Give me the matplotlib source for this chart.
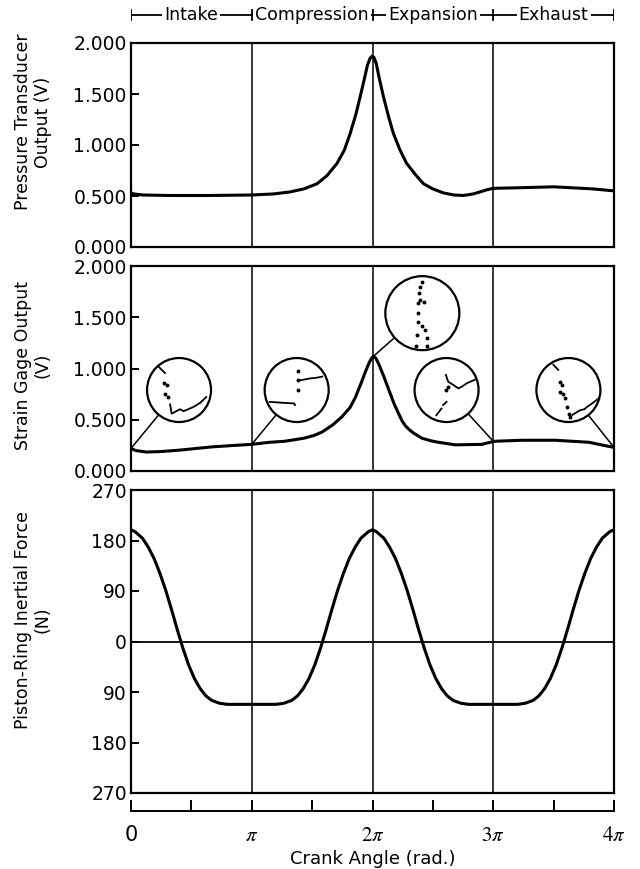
import numpy as np
import matplotlib
matplotlib.use("Agg")
import matplotlib.pyplot as plt
from matplotlib.patches import Circle
from matplotlib.transforms import ScaledTranslation

plt.rcParams['font.family'] = 'DejaVu Sans'
plt.rcParams['mathtext.fontset'] = 'stix'
plt.rcParams['lines.solid_joinstyle'] = 'round'

PI = np.pi

# pressure transducer output (V) vs crank angle (rad)
p_theta = [0, 0.08, 0.3, 1.0, 2.0, 3.14, 3.7, 4.14, 4.5, 4.84, 5.1, 5.36, 5.55, 5.70,
           5.85, 5.96, 6.06, 6.15, 6.22, 6.27, 6.32, 6.38, 6.45, 6.57, 6.70, 6.83, 7.0,
           7.17, 7.4, 7.61, 7.85, 8.13, 8.4, 8.65, 8.9, 9.08, 9.25, 9.42, 10.0, 11.0,
           12.0, 12.57]
p_volt = [0.53, 0.52, 0.51, 0.505, 0.505, 0.51, 0.52, 0.54, 0.57, 0.62, 0.70, 0.82, 0.95, 1.11,
          1.30, 1.47, 1.63, 1.78, 1.85, 1.87, 1.86, 1.80, 1.67, 1.47, 1.28, 1.11, 0.95,
          0.82, 0.71, 0.62, 0.57, 0.53, 0.51, 0.505, 0.52, 0.54, 0.56, 0.575, 0.58, 0.59,
          0.57, 0.55]

# strain gage output (V)
s_theta = [0, 0.12, 0.4, 0.8, 1.3, 2.1, 2.7, 3.14, 3.6, 4.0, 4.5, 4.75, 4.97, 5.25, 5.49,
           5.7, 5.84, 6.0, 6.10, 6.20, 6.26, 6.31, 6.37, 6.45, 6.58, 6.7, 6.84, 6.95,
           7.05, 7.14, 7.25, 7.35, 7.57, 7.8, 8.0, 8.44, 9.13, 9.45, 10.18, 11.04, 11.92,
           12.3, 12.57]
s_volt = [0.22, 0.20, 0.185, 0.19, 0.205, 0.235, 0.25, 0.26, 0.28, 0.29, 0.32, 0.345, 0.38,
          0.45, 0.53, 0.62, 0.72, 0.87, 0.97, 1.06, 1.10, 1.12, 1.10, 1.04, 0.92, 0.80,
          0.66, 0.57, 0.49, 0.44, 0.40, 0.37, 0.32, 0.295, 0.28, 0.255, 0.26, 0.29, 0.30,
          0.30, 0.28, 0.25, 0.23]

# piston-ring inertial force (N)
f_theta = [0, 0.1, 0.3, 0.45, 0.6, 0.75, 0.9, 1.05, 1.2, 1.35, 1.5, 1.65, 1.8, 1.95,
           2.1, 2.3, 2.5, 3.14,
           3.78, 3.98, 4.18, 4.33, 4.48, 4.63, 4.78, 4.93, 5.08, 5.23, 5.38, 5.53, 5.68,
           5.83, 5.98, 6.18, 6.28,
           6.38, 6.58, 6.73, 6.88, 7.03, 7.18, 7.33, 7.48, 7.63, 7.78, 7.93, 8.08, 8.23,
           8.38, 8.58, 8.78, 9.42,
           10.06, 10.26, 10.46, 10.61, 10.76, 10.91, 11.06, 11.21, 11.36, 11.51, 11.66,
           11.81, 11.96, 12.11, 12.26, 12.46, 12.57]
f_force = [199, 196, 184, 168, 148, 122, 92, 58, 22, -12, -42, -66, -84, -97,
           -105, -110, -112, -112,
           -112, -110, -105, -97, -84, -66, -42, -12, 22, 58, 92, 122, 148,
           168, 184, 196, 199,
           196, 184, 168, 148, 122, 92, 58, 22, -12, -42, -66, -84, -97,
           -105, -110, -112, -112,
           -112, -110, -105, -97, -84, -66, -42, -12, 22, 58, 92,
           122, 148, 168, 184, 196, 199]

stroke_names = ["Intake", "Compression", "Expansion", "Exhaust"]
p_ticks = [0.0, 0.5, 1.0, 1.5, 2.0]
f_ticks = [-270, -180, -90, 0, 90, 180, 270]
crank_labels = ["0", r"$\pi$", r"$2\pi$", r"$3\pi$", r"$4\pi$"]

# magnified views on the strain trace: (centre x, centre y, radius in, anchor x, anchor y)
zoom_centres = [(1.25, 0.79, 0.32, 0.0, 0.22),
                (4.31, 0.79, 0.32, PI, 0.26),
                (7.58, 1.54, 0.37, 6.31, 1.12),
                (8.21, 0.79, 0.32, 3 * PI, 0.29),
                (11.38, 0.79, 0.32, 4 * PI, 0.23)]
# traces inside each circle, in units of the radius
zoom_lines = [
    [[(-0.65, 0.74), (-0.44, 0.53)],
     [(-0.28, -0.45), (-0.23, -0.74), (0.03, -0.60), (0.14, -0.66), (0.24, -0.62), (0.45, -0.53), (0.66, -0.40), (0.85, -0.22)]],
    [[(-0.84, -0.37), (-0.42, -0.40), (-0.08, -0.42), (-0.05, -0.47)],
     [(0.08, 0.30), (0.25, 0.33), (0.40, 0.36), (0.60, 0.38), (0.80, 0.42)]],
    [],
    [[(-0.32, -0.79), (-0.16, -0.58)], [(-0.11, -0.47), (0.0, -0.37)],
     [(-0.02, 0.47), (0.05, 0.26), (0.21, 0.16), (0.37, 0.05), (0.50, 0.12), (0.63, 0.21), (0.88, 0.32)]],
    [[(-0.47, 0.79), (-0.32, 0.63)],
     [(0.12, -0.78), (0.25, -0.70), (0.37, -0.63), (0.50, -0.60), (0.58, -0.53), (0.74, -0.42), (0.95, -0.26)]],
]
zoom_dots = [
    [(-0.47, 0.21), (-0.39, 0.16), (-0.44, -0.11), (-0.34, -0.21)],
    [(0.05, 0.58), (0.05, 0.32), (0.03, 0.0)],
    [(0, 0.85), (-0.06, 0.71), (-0.09, 0.54), (-0.06, 0.36), (0.04, 0.29), (-0.11, 0.27),
     (-0.13, 0.0), (-0.13, -0.25), (-0.02, -0.34), (0.07, -0.45), (-0.15, -0.58),
     (0.12, -0.67), (-0.16, -0.90), (0.12, -0.88)],
    [(-0.02, 0.0), (0.03, 0.11)],
    [(-0.26, 0.26), (-0.21, 0.16), (-0.26, -0.05), (-0.16, -0.11), (-0.11, -0.26),
     (-0.05, -0.53), (0.03, -0.74), (0.05, -0.84)],
]

W, H = 640, 869
fig = plt.figure(figsize=(W / 100, H / 100), dpi=100)


def box(left, top, right, bottom):
    return [left / W, (H - bottom) / H, (right - left) / W, (bottom - top) / H]


L, R = 131, 614
ax1 = fig.add_axes(box(L, 43, R, 247))
ax2 = fig.add_axes(box(L, 266, R, 471))
ax3 = fig.add_axes(box(L, 490, R, 793))
axc = fig.add_axes(box(L, 798, R, 811))
axh = fig.add_axes(box(L, 4, R, 26))

for ax in (ax1, ax2, ax3):
    ax.set_xlim(0, 4 * PI)
    ax.set_xticks([])
    for sp in ax.spines.values():
        sp.set_linewidth(1.6)
    ax.tick_params(axis='y', direction='in', length=6, width=1.4, labelsize=13.5, pad=3, right=False)
    for k in (1, 2, 3):
        ax.axvline(k * PI, color='black', lw=1.1, zorder=1)

ax1.plot(p_theta, p_volt, color='black', lw=2.2, zorder=3)
ax1.set_ylim(0, 2)
ax1.set_yticks(p_ticks)
ax1.set_yticklabels(["%.3f" % v for v in p_ticks])

ax2.plot(s_theta, s_volt, color='black', lw=2.2, zorder=3)
ax2.set_ylim(0, 2)
ax2.set_yticks(p_ticks)
ax2.set_yticklabels(["%.3f" % v for v in p_ticks])

for i, (cx, cy, r, x0, y0) in enumerate(zoom_centres):
    trans = fig.dpi_scale_trans + ScaledTranslation(cx, cy, ax2.transData)
    ax2.plot([x0, cx], [y0, cy], color='black', lw=1.1, zorder=3, clip_on=False)
    ax2.add_patch(Circle((0, 0), r, transform=trans, facecolor='white',
                         edgecolor='black', lw=1.6, zorder=4))
    for seg in zoom_lines[i]:
        sx, sy = zip(*seg)
        ax2.plot(np.array(sx) * r, np.array(sy) * r, transform=trans,
                 color='black', lw=1.3, zorder=5)
    if zoom_dots[i]:
        dx, dy = zip(*zoom_dots[i])
        ax2.plot(np.array(dx) * r, np.array(dy) * r, 'o', transform=trans,
                 color='black', ms=1.8, zorder=5)

ax3.plot(f_theta, f_force, color='black', lw=2.2, zorder=3)
ax3.axhline(0, color='black', lw=1.3, zorder=1)
ax3.set_ylim(-270, 270)
ax3.set_yticks(f_ticks)
ax3.set_yticklabels([str(abs(v)) for v in f_ticks])

# crank angle scale under the panels
axc.set_xlim(0, 4 * PI)
axc.set_ylim(0, 1)
axc.set_yticks([])
for s in ('top', 'left', 'right'):
    axc.spines[s].set_visible(False)
axc.spines['bottom'].set_linewidth(1.4)
axc.set_xticks([k * PI for k in range(5)])
axc.set_xticklabels(crank_labels, fontsize=15)
axc.set_xticks([(k + 0.5) * PI for k in range(4)], minor=True)
axc.tick_params(axis='x', which='both', direction='in', length=8, width=1.4, pad=10)
axc.patch.set_alpha(0)
axc.set_xlabel("Crank Angle (rad.)", fontsize=13, labelpad=4)

# stroke names above the top panel
axh.set_xlim(0, 4 * PI)
axh.set_ylim(-1, 1)
axh.axis('off')
axh.plot([0, 4 * PI], [0, 0], color='black', lw=1.3)
for k in range(5):
    axh.plot([k * PI, k * PI], [-0.45, 0.45], color='black', lw=1.3)
for k, name in enumerate(stroke_names):
    axh.text((k + 0.5) * PI, 0, name, ha='center', va='center', fontsize=12.5,
             bbox=dict(facecolor='white', edgecolor='none', pad=1.5))

fig.text(33 / W, 1 - 122 / H, "Pressure Transducer\nOutput (V)", rotation=90,
         ha='center', va='center', multialignment='center', fontsize=12.5, linespacing=1.1)
fig.text(33 / W, 1 - 365 / H, "Strain Gage Output\n(V)", rotation=90,
         ha='center', va='center', multialignment='center', fontsize=12.5, linespacing=1.1)
fig.text(33 / W, 1 - 620 / H, "Piston-Ring Inertial Force\n(N)", rotation=90,
         ha='center', va='center', multialignment='center', fontsize=12.5, linespacing=1.1)

fig.savefig("out.png", dpi=100)
